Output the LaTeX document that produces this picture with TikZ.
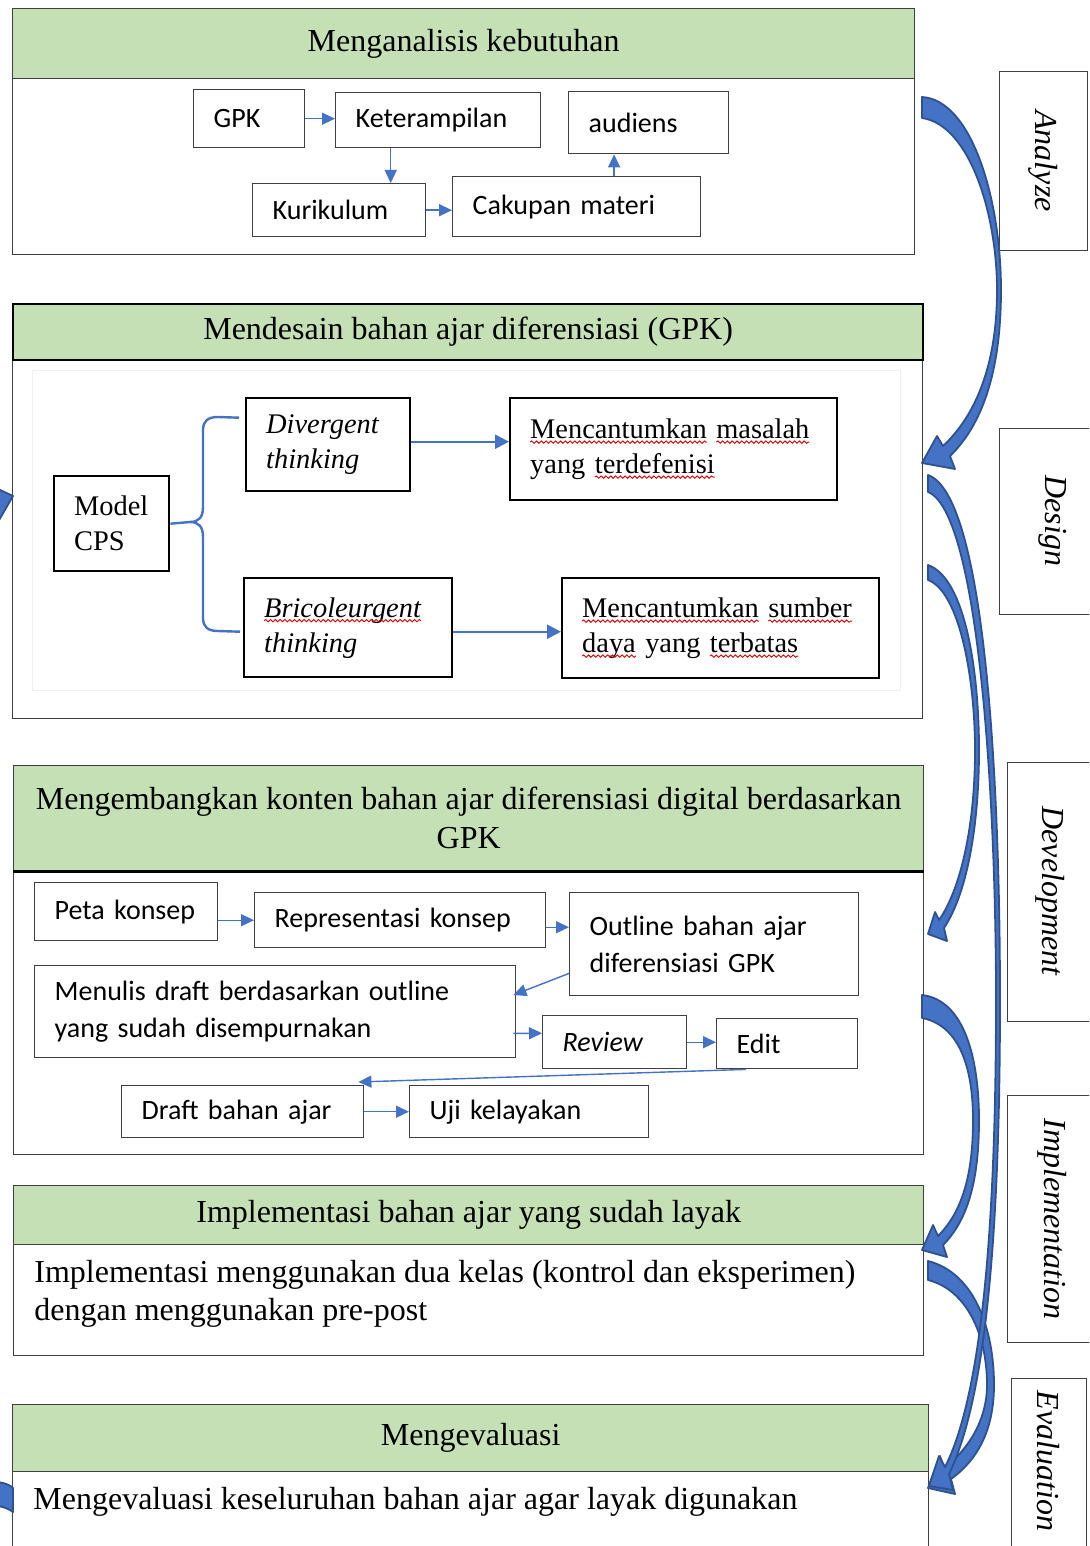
\documentclass[tikz,border=0pt]{standalone}
\usepackage{fontspec}
\setmainfont{Liberation Serif}
\newfontfamily\calfont{Carlito}
\usetikzlibrary{arrows.meta,calc,decorations.pathmorphing}
\definecolor{hdrgreen}{HTML}{C5E0B4}
\definecolor{arrblue}{HTML}{4472C4}
\definecolor{arrnavy}{HTML}{2F528F}
\definecolor{boxline}{HTML}{404040}
% red wavy (spell-check) underline
\newcommand\rw[1]{\tikz[baseline=(rwt.base), x=1pt, y=1pt]{%
  \node[inner sep=0pt, outer sep=0pt, text width=, align=left, anchor=base, draw=none, fill=none, minimum width=0pt, minimum height=0pt] (rwt) {#1};
  \draw[overlay, red!85!black, line width=0.45pt, decorate, decoration={snake, amplitude=0.6pt, segment length=2.4pt}]
    ([yshift=-1.8pt]rwt.base west) -- ([yshift=-1.8pt]rwt.base east);}}
% box macro: name, x1, y1, x2, y2 (pixels), style, text
\newcommand\bx[7]{%
  \pgfmathsetmacro\bxw{(#4-#2)*0.5}%
  \pgfmathsetmacro\bxh{(#5-#3)*0.5}%
  \pgfmathsetmacro\bxt{(#4-#2)*0.5-20}%
  \node[anchor=north west, minimum width=\bxw pt, minimum height=\bxh pt,
        inner ysep=0pt, inner xsep=10pt, text width=\bxt pt, #6] (#1) at (#2,#3) {#7};}
\begin{document}
\begin{tikzpicture}[x=0.5pt,y=-0.5pt,
  hdr/.style={draw=boxline, line width=0.7pt, fill=hdrgreen, align=center, text width=,
              font=\fontsize{16}{19.5}\selectfont},
  sbody/.style={draw=boxline, line width=0.7pt, fill=white},
  cbox/.style={draw=boxline, line width=0.7pt, fill=white, align=left,
              font=\calfont\fontsize{14}{18.5}\selectfont},
  tbox/.style={draw=black, line width=1.2pt, fill=white, align=left,
              font=\fontsize{14.2}{17.5}\selectfont},
  lblbox/.style={draw=boxline, line width=0.7pt, fill=white},
  lbl/.style={font=\itshape\fontsize{16}{19}\selectfont, inner sep=0pt},
  btxt/.style={font=\fontsize{16}{19}\selectfont, align=left, inner sep=0pt},
  arr/.style={draw=arrblue, line width=0.7pt, -{Triangle[length=6.5pt,width=6pt]}},
  arrT/.style={draw=arrblue, line width=1.2pt, -{Triangle[length=7pt,width=7pt]}},
  bracket/.style={draw=arrblue, line width=1.2pt},
  barrow/.style={fill=arrblue, draw=arrnavy, line width=0.9pt, line join=round}
]
\clip (0,0) rectangle (1089,1546);
\fill[white] (0,0) rectangle (1089,1546);

% ---------- Section 1: Analyze ----------
\bx{s1b}{12}{78}{914}{254}{sbody}{}
\bx{s1h}{12}{8}{914}{78}{hdr}{Menganalisis kebutuhan}
\bx{gpk}{193}{89}{304}{147}{cbox}{GPK}
\bx{ket}{335}{92}{540}{147}{cbox}{Keterampilan}
\bx{aud}{568}{91}{728}{153}{cbox}{audiens}
\bx{kur}{252}{183}{425}{236}{cbox}{Kurikulum}
\bx{cak}{452}{176}{700}{236}{cbox}{Cakupan materi}
\coordinate (ketb) at ($(ket.south west)!0.27!(ket.south east)$);
\coordinate (cakt) at ($(cak.north west)!0.65!(cak.north east)$);
\draw[arr] (gpk.east) -- (gpk.east -| ket.west);
\draw[arr] (ketb) -- (ketb |- kur.north);
\draw[arr] (kur.east) -- (kur.east -| cak.west);
\draw[arr] (cakt) -- (cakt |- aud.south);

% ---------- Section 2: Design ----------
\bx{s2b}{12}{359}{922}{718}{sbody}{}
\bx{s2h}{12}{303}{922}{359}{hdr, draw=black, line width=1.1pt}{Mendesain bahan ajar diferensiasi (GPK)}
\bx{s2pic}{32}{370}{900}{690}{draw=black!6, line width=0.6pt}{}
\bx{cps}{53}{475}{168}{570}{tbox, inner xsep=9.5pt}{Model\\CPS}
\bx{div}{245}{397}{409}{490}{tbox, inner xsep=9pt}{\itshape Divergent\\thinking}
\bx{mas}{509}{397}{836}{499}{tbox}{\rw{Mencantumkan} \rw{masalah}\\yang \rw{terdefenisi}}
\bx{bric}{243}{577}{451}{676}{tbox}{\itshape \rw{Bricoleurgent}\\thinking}
\bx{sum}{561}{577}{878}{677}{tbox}{\rw{Mencantumkan} \rw{sumber}\\\rw{daya} yang \rw{terbatas}}
\draw[bracket] (cps.east) -- (190,522) .. controls (199,522) and (203,517) .. (203,507)
  -- (203,430) .. controls (203,421) and (208,417) .. (218,417) -- ($(div.west)+(-6,-27)$);
\draw[bracket] (190,522) .. controls (199,522) and (203,527) .. (203,537)
  -- (203,618) .. controls (203,627) and (208,631) .. (218,631) -- ($(bric.west)+(-3,4)$);
\draw[arrT] ($(div.east)+(0,-3)$) -- ($(div.east -| mas.west)+(0,-3)$);
\draw[arrT] ($(bric.east)+(0,4)$) -- ($(bric.east -| sum.west)+(0,4)$);

% ---------- Section 3: Development ----------
\bx{s3b}{13}{870}{923}{1154}{sbody}{}
\bx{s3h}{13}{765}{923}{870}{hdr}{Mengembangkan konten bahan ajar diferensiasi digital berdasarkan\\GPK}
\draw[black, line width=1.3pt] (s3h.south west) -- (s3h.south east);
\bx{peta}{34}{882}{217}{940}{cbox}{Peta konsep}
\bx{rep}{254}{892}{545}{947}{cbox}{Representasi konsep}
\bx{out}{569}{892}{858}{995}{cbox}{Outline bahan ajar\\diferensiasi GPK}
\bx{men}{34}{965}{515}{1057}{cbox}{Menulis draft berdasarkan outline\\yang sudah disempurnakan}
\bx{rev}{542}{1015}{686}{1068}{cbox}{\itshape Review}
\bx{edit}{716}{1018}{857}{1068}{cbox}{Edit}
\bx{draft}{121}{1085}{363}{1137}{cbox}{Draft bahan ajar}
\bx{uji}{409}{1085}{648}{1137}{cbox}{Uji kelayakan}
\draw[arr] (rep.west -| peta.east) -- (rep.west);
\draw[arr] ($(rep.east)+(0,7)$) -- ($(rep.east -| out.west)+(0,7)$);
\draw[arr] ($(out.south west)+(0,-23)$) -- ($(men.north east)+(-3,30)$);
\draw[arr] ($(men.south east)+(-3,-25)$) -- ($(rev.west)+(0,-9)$);
\draw[arr] (rev.east) -- (rev.east -| edit.west);
\draw[arr] ($(edit.south west)+(30,0)$) -- ($(draft.north east)+(-6,-3)$);
\draw[arr] (draft.east) -- (draft.east -| uji.west);

% ---------- Section 4: Implementation ----------
\bx{s4b}{13}{1244}{923}{1355}{sbody}{}
\bx{s4h}{13}{1185}{923}{1244}{hdr}{Implementasi bahan ajar yang sudah layak}
\node[btxt, anchor=west] (s4t) at (34,1294) {Implementasi menggunakan dua kelas (kontrol dan eksperimen)\\dengan menggunakan pre-post};

% ---------- Section 5: Evaluation ----------
\bx{s5b}{12}{1471}{928}{1580}{sbody}{}
\bx{s5h}{12}{1404}{928}{1471}{hdr}{Mengevaluasi}
\node[btxt, anchor=west] (s5t) at (33,1502) {Mengevaluasi keseluruhan bahan ajar agar layak digunakan};

% ---------- Phase labels ----------
\bx{la}{999}{71}{1087}{250}{lblbox}{}
\bx{ld}{999}{428}{1100}{614}{lblbox}{}
\bx{ldv}{1007}{762}{1100}{1021}{lblbox}{}
\bx{li}{1007}{1095}{1100}{1342}{lblbox}{}
\bx{le}{1011}{1378}{1086}{1580}{lblbox}{}
\node[lbl, rotate=-90] (lat) at (1043,161) {Analyze};
\node[lbl, rotate=-90] (ldt) at (1053,521) {Design};
\node[lbl, rotate=-90] (ldvt) at (1050,891) {Development};
\node[lbl, rotate=-90] (lit) at (1052,1219) {Implementation};
\node[lbl, rotate=-90] (let) at (1048,1461) {Evaluation};

% ---------- Curved block arrows ----------
\path[barrow] (922,97) .. controls (972,100) and (1001,200) .. (1001,290)
  .. controls (1001,372) and (982,425) .. (950,456) -- (955,469) -- (922,463) -- (937,436) -- (943,446)
  .. controls (975,416) and (997,366) .. (997,290) .. controls (997,215) and (970,125) .. (922,118) -- cycle;
\path[barrow] (928,565) .. controls (965,578) and (979,670) .. (979,750)
  .. controls (979,830) and (966,895) .. (944,928) -- (947,941) -- (928,934) -- (935,912) -- (939,920)
  .. controls (960,890) and (975,828) .. (975,750) .. controls (975,680) and (960,592) .. (928,580) -- cycle;
\path[barrow] (922,995) .. controls (965,1000) and (979,1060) .. (979,1120)
  .. controls (979,1180) and (968,1220) .. (943,1245) -- (947,1257) -- (922,1250) -- (933,1225) -- (938,1236)
  .. controls (962,1212) and (973,1175) .. (973,1120) .. controls (973,1065) and (958,1025) .. (922,1018) -- cycle;
\path[barrow] (928,1261) .. controls (975,1273) and (994,1330) .. (994,1385)
  .. controls (994,1432) and (976,1461) .. (951,1479) -- (955,1494) -- (928,1488) -- (940,1456) -- (944,1468)
  .. controls (968,1450) and (987,1420) .. (987,1385) .. controls (987,1335) and (967,1290) .. (928,1280) -- cycle;
\path[barrow] (928,475) .. controls (985,495) and (1000,780) .. (1000,1000)
  .. controls (1000,1240) and (985,1400) .. (949,1474) -- (953,1490) -- (929,1486) -- (939,1456) -- (945,1467)
  .. controls (980,1398) and (996,1240) .. (996,1000) .. controls (996,790) and (978,512) .. (928,492) -- cycle;

% ---------- fragments at left edge ----------
\path[barrow] (-2,489) -- (13,496) -- (-2,522) -- cycle;
\path[barrow] (-2,1482) .. controls (5,1483) and (10,1485) .. (13,1488) -- (13,1512)
  .. controls (9,1509) and (4,1507) .. (-2,1506) -- cycle;
\end{tikzpicture}
\end{document}
